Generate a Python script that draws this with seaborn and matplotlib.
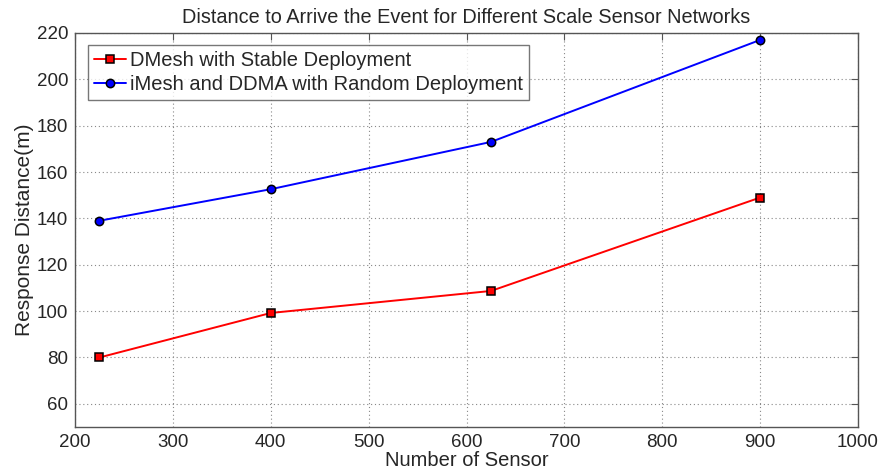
import matplotlib
matplotlib.use("Agg")
import matplotlib.pyplot as plt
import seaborn as sns
import pandas as pd

sensors = [225, 400, 625, 900]
dmesh = [80, 99.2, 108.7, 149]
imesh = [139, 152.6, 173, 217]
series_names = ["DMesh with Stable Deployment", "iMesh and DDMA with Random Deployment"]
x_ticks = [200, 300, 400, 500, 600, 700, 800, 900, 1000]
y_ticks = [60, 80, 100, 120, 140, 160, 180, 200, 220]

df = pd.DataFrame({
    "x": sensors * 2,
    "y": dmesh + imesh,
    "series": [series_names[0]] * len(sensors) + [series_names[1]] * len(sensors),
})

sns.set_style("white")
plt.rcParams["font.family"] = ["Liberation Sans", "DejaVu Sans"]

fig = plt.figure(figsize=(8.83, 4.75), dpi=100)
ax = fig.add_axes([75 / 883, 1 - 427 / 475, (858 - 75) / 883, (427 - 33) / 475])

sns.lineplot(data=df, x="x", y="y", hue="series", style="series",
             palette={series_names[0]: "red", series_names[1]: "blue"},
             markers={series_names[0]: "s", series_names[1]: "o"},
             dashes=False, markersize=6, markeredgecolor="black",
             markeredgewidth=1.1, linewidth=1.4, ax=ax)

ax.set_xlim(200, 1000)
ax.set_ylim(50, 220)
ax.set_xticks(x_ticks)
ax.set_yticks(y_ticks)
ax.tick_params(direction="in", length=5, width=0.8, color="#555555",
               top=True, right=True, labelsize=13.5, pad=5)
for s in ax.spines.values():
    s.set_color("#555555")
    s.set_linewidth(1.0)
ax.grid(True, linestyle=(0, (1, 2.5)), color="#888888", linewidth=0.8)

ax.set_title("Distance to Arrive the Event for Different Scale Sensor Networks",
             fontsize=14.3, pad=7)
ax.set_xlabel("Number of Sensor", fontsize=14.5, labelpad=0)
ax.set_ylabel("Response Distance(m)", fontsize=15, labelpad=2)

leg = ax.legend(loc="upper left", bbox_to_anchor=(0.016, 0.97), fontsize=14.5,
                frameon=True, fancybox=False, edgecolor="#555555",
                handlelength=1.6, handletextpad=0.2, borderpad=0.3,
                labelspacing=0.25, borderaxespad=0.0)
leg.get_frame().set_linewidth(1.0)

fig.savefig("out.png", dpi=100)
